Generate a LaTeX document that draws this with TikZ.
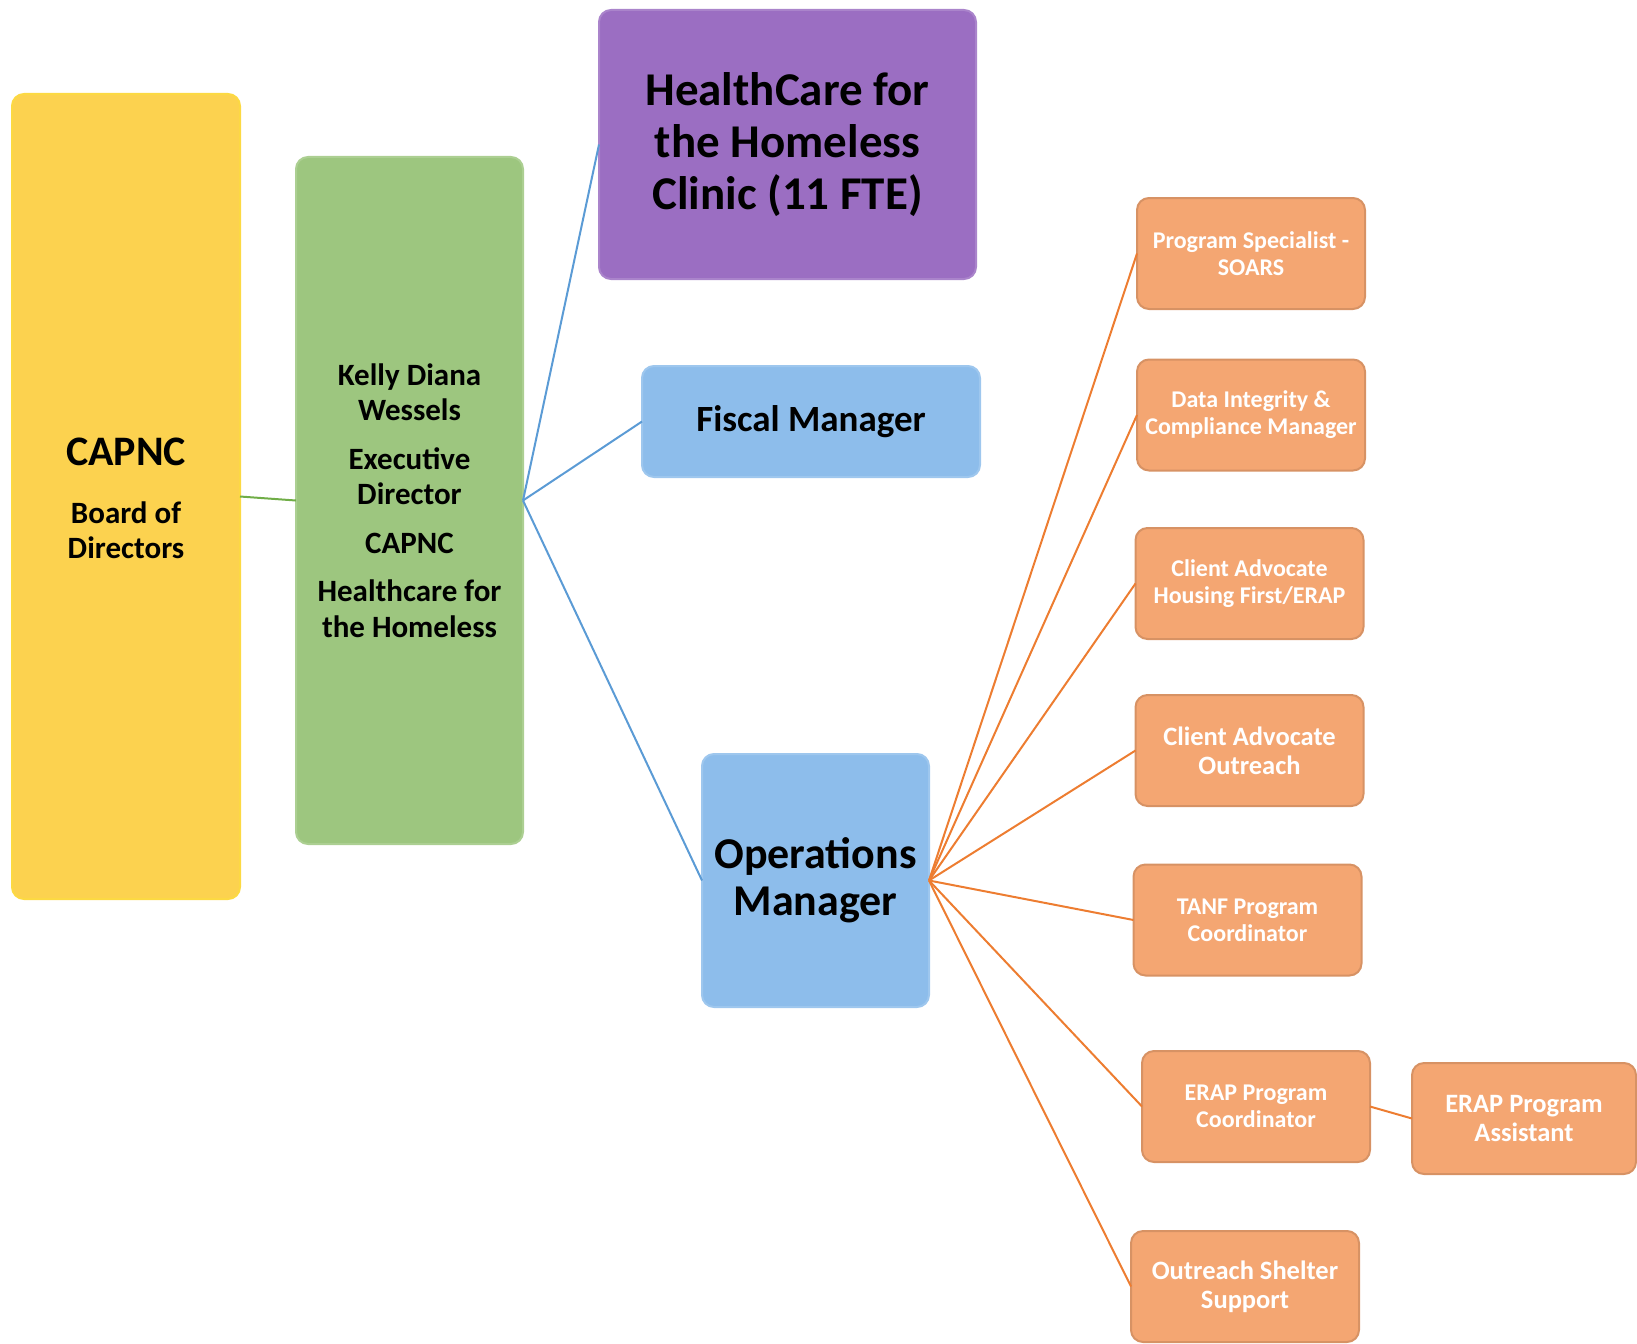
\documentclass[tikz,border=0pt]{standalone}
\usepackage{fontspec}
\setmainfont{Carlito}
\definecolor{cyel}{HTML}{FCD24F}
\definecolor{cgrn}{HTML}{9DC67F}
\definecolor{cpur}{HTML}{9B6EC2}
\definecolor{cblu}{HTML}{8DBDEB}
\definecolor{corg}{HTML}{F4A672}
\definecolor{lblu}{HTML}{5B9BD5}
\definecolor{lorg}{HTML}{ED7D31}
\definecolor{lgrn}{HTML}{70AD47}
\tikzset{
  box/.style={rounded corners=12pt, line width=2pt, align=center, inner sep=0pt, outer sep=0pt, font=\bfseries},
  ybox/.style={box, fill=cyel, draw=cyel!85!yellow},
  gbox/.style={box, fill=cgrn, draw=cgrn!85!white},
  pbox/.style={box, fill=cpur, draw=cpur!85!white},
  bbox/.style={box, fill=cblu, draw=cblu!85!white},
  obox/.style={box, fill=corg, draw=corg!88!black, text=white, minimum width=228pt, minimum height=111pt},
  osmall/.style={obox, font=\bfseries\fontsize{24}{27}\selectfont},
  olarge/.style={obox, font=\bfseries\fontsize{26.5}{29}\selectfont},
  bline/.style={draw=lblu, line width=2pt},
  oline/.style={draw=lorg, line width=2pt},
  gline/.style={draw=lgrn, line width=2pt}
}
\begin{document}
\begin{tikzpicture}[x=1pt,y=-1pt]
\useasboundingbox (0,0) rectangle (1637,1343);
% main boxes
\node[ybox, minimum width=228pt, minimum height=805pt] (board) at (126,496.5) {};
\node[font=\bfseries\fontsize{42}{46}\selectfont] (capnc) at (126,452) {CAPNC};
\node[font=\bfseries\fontsize{31}{35}\selectfont, align=center] (bod) at (126,530) {Board of\\Directors};
\node[gbox, minimum width=227pt, minimum height=687pt, font=\bfseries\fontsize{31}{35.5}\selectfont] (ed) at (409.5,500.5)
  {Kelly Diana\\Wessels\\[13pt]Executive\\Director\\[13pt]CAPNC\\[13pt]Healthcare for\\the Homeless};
\node[pbox, minimum width=377pt, minimum height=269pt, font=\bfseries\fontsize{47}{52}\selectfont] (hch) at (787.5,144.5)
  {HealthCare for\\the Homeless\\Clinic (11 FTE)};
\node[bbox, minimum width=338pt, minimum height=111pt, font=\bfseries\fontsize{37}{42}\selectfont] (fm) at (811,421.5) {\raisebox{-3pt}{Fiscal Manager}};
\node[bbox, minimum width=227pt, minimum height=253pt, font=\bfseries\fontsize{44}{47}\selectfont] (om) at (815.5,880.5) {Operations\\Manager};
% orange boxes
\node[osmall] (ps) at (1251,253.5) {Program Specialist -\\SOARS};
\node[osmall] (di) at (1251,415) {Data Integrity \&\\Compliance Manager};
\node[osmall] (cah) at (1249.5,583.5) {Client Advocate\\Housing First/ERAP};
\node[olarge] (cao) at (1249.5,750.5) {Client Advocate\\Outreach};
\node[osmall] (tanf) at (1247.5,920) {TANF Program\\Coordinator};
\node[osmall] (erc) at (1256,1106.5) {ERAP Program\\Coordinator};
\node[olarge, minimum width=224pt] (era) at (1524,1118.5) {ERAP Program\\Assistant};
\node[olarge] (oss) at (1245,1286.5) {Outreach Shelter\\Support};
% connectors
\draw[gline] (board.east) -- (ed.west);
\draw[bline] (ed.east) -- (hch.west);
\draw[bline] (ed.east) -- (fm.west);
\draw[bline] (ed.east) -- (om.west);
\foreach \t in {ps,di,cah,cao,tanf,erc,oss}{\draw[oline] (om.east) -- (\t.west);}
\draw[oline] (erc.east) -- (era.west);
\end{tikzpicture}
\end{document}
